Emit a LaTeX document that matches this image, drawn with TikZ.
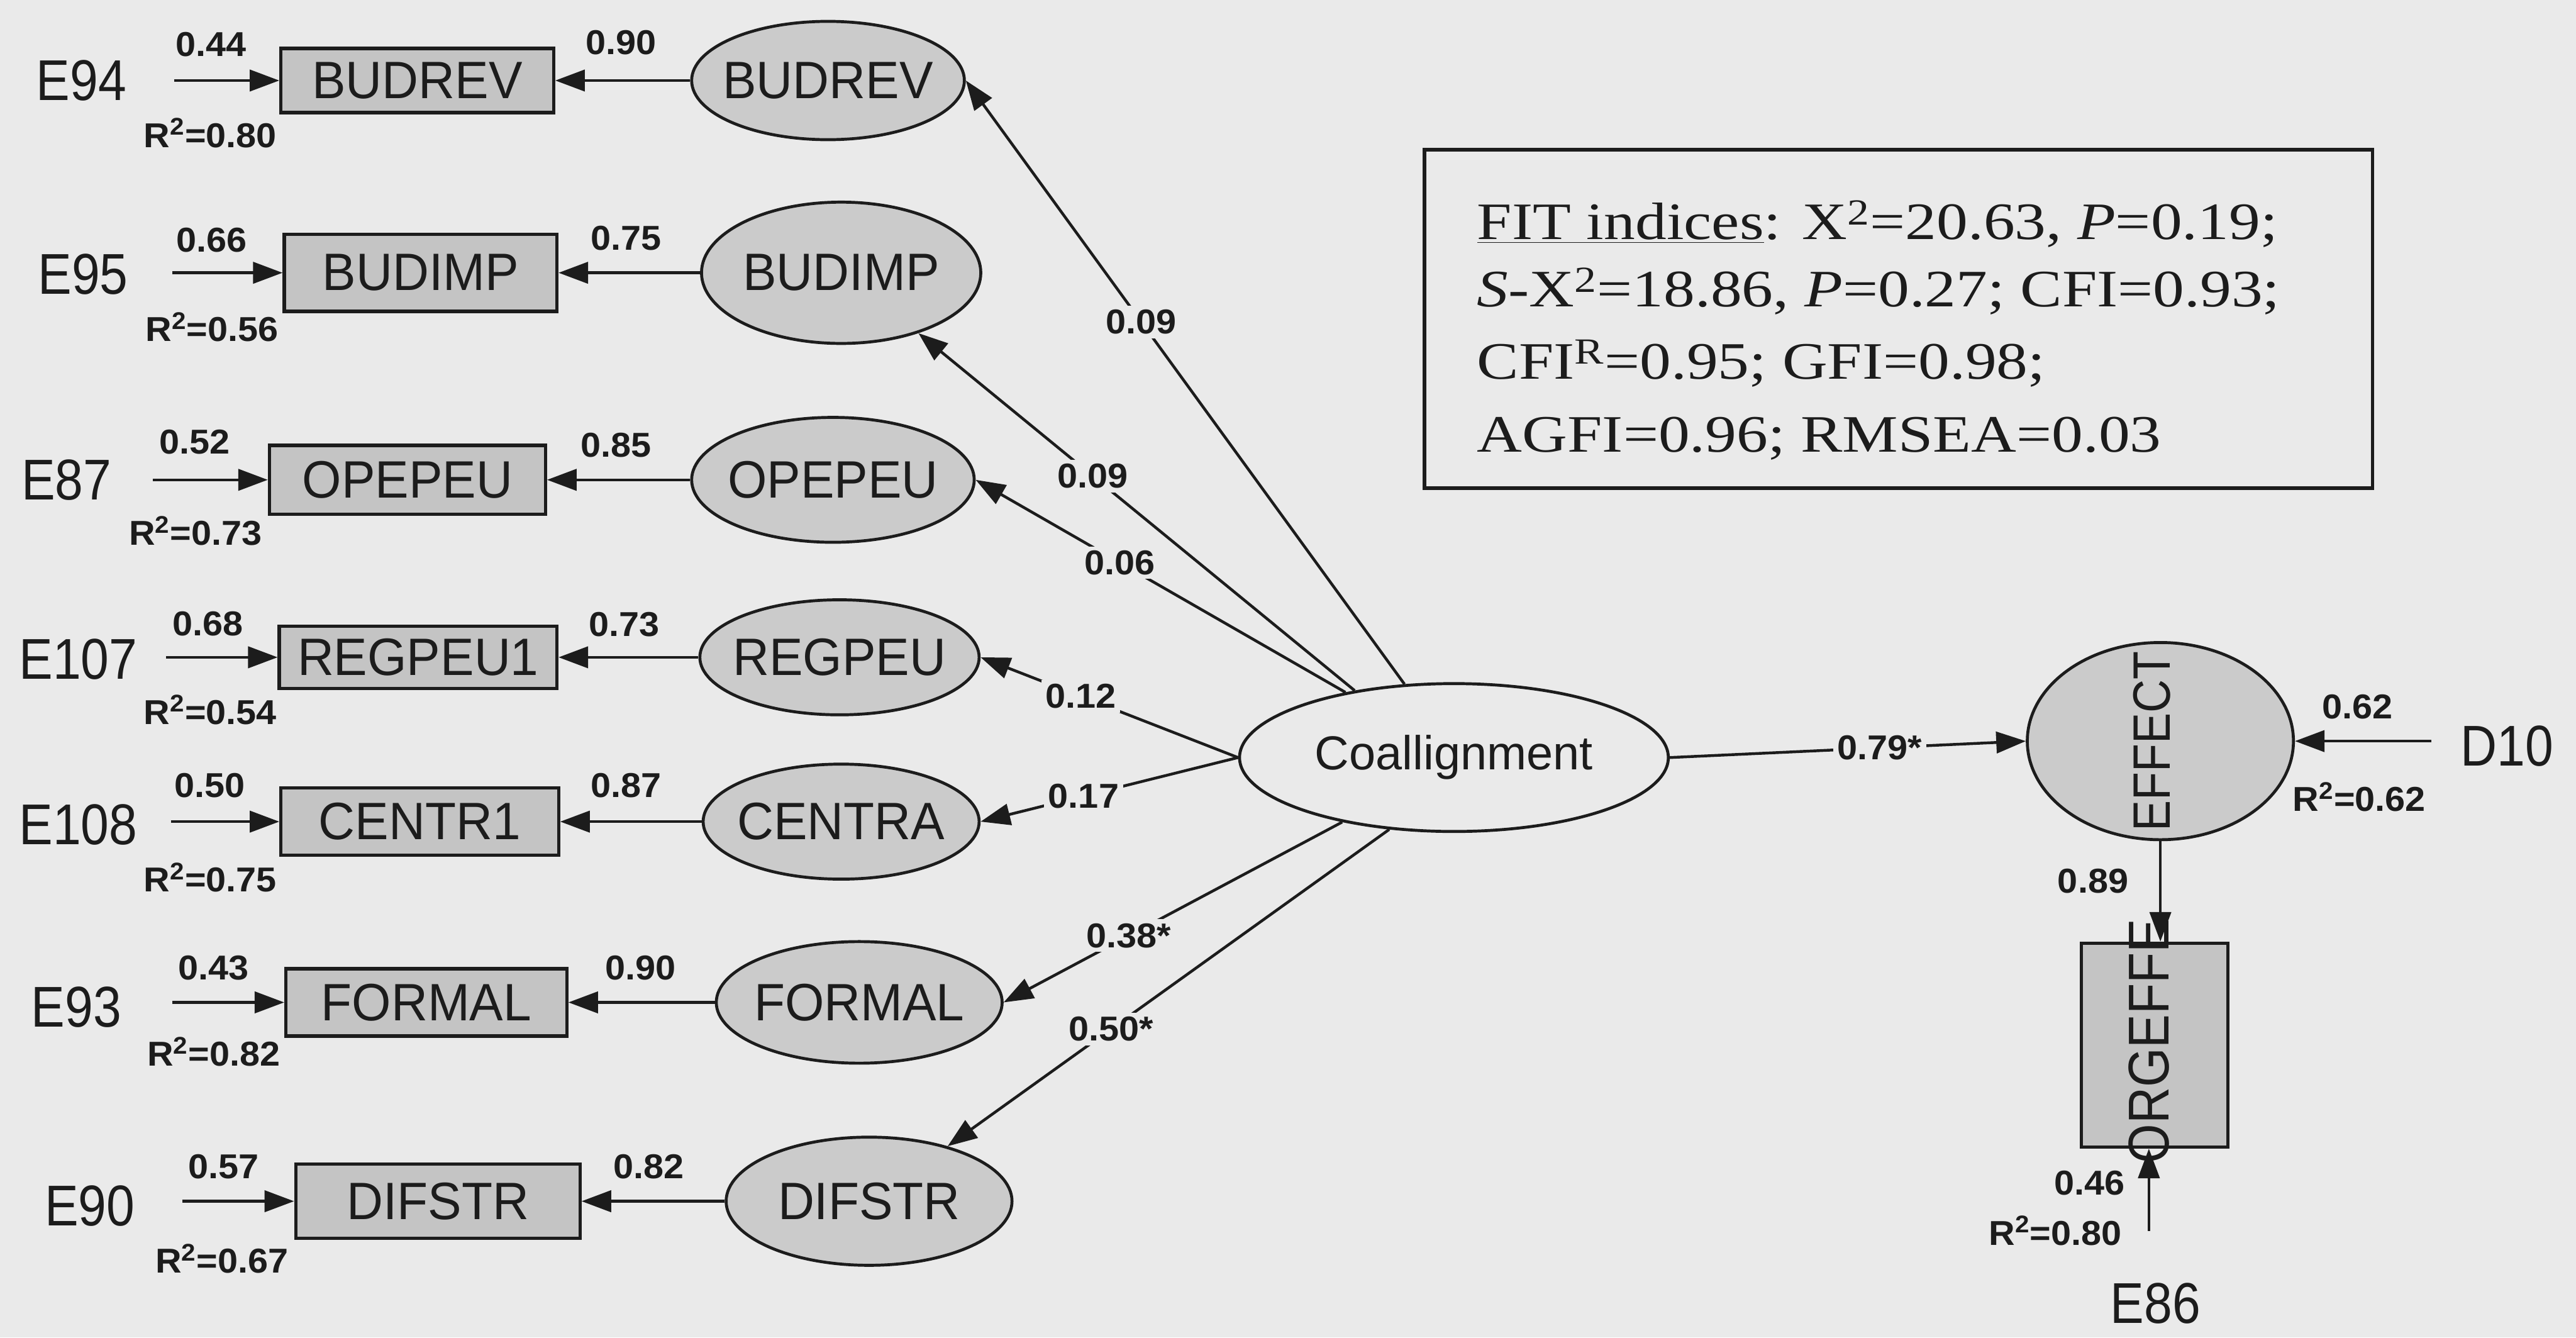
\documentclass[tikz,border=0pt]{standalone}
\usepackage{fontspec}
\setmainfont{Liberation Sans}
\newfontfamily\efamily[FakeStretch=0.88]{Liberation Sans}
\newfontfamily\vfamily[FakeStretch=0.96]{Liberation Sans}
\newfontfamily\nfamily[FakeStretch=1.05]{Liberation Sans}
\newfontfamily\fitfamily[FakeStretch=1.19]{Liberation Serif}
\usetikzlibrary{shapes.geometric,arrows.meta}
\definecolor{bg}{HTML}{EAEAEA}
\definecolor{ink}{HTML}{1C1C1C}
\definecolor{boxfill}{HTML}{C4C4C4}
\definecolor{latfill}{HTML}{CBCBCB}
\tikzset{
  elab/.style={font=\efamily\fontsize{35}{40}\selectfont, text=ink, inner sep=0pt},
  num/.style={font=\nfamily\bfseries\fontsize{21}{24}\selectfont, text=ink, inner sep=0pt},
  obs/.style={rectangle, draw=ink, line width=2pt, fill=boxfill, inner sep=0pt,
              font=\vfamily\fontsize{32}{36}\selectfont, text=ink},
  lat/.style={ellipse, draw=ink, line width=1.8pt, fill=latfill, inner xsep=-14pt, inner ysep=0pt,
              font=\vfamily\fontsize{32}{36}\selectfont, text=ink},
  arr/.style={draw=ink, line width=1.7pt, -{Triangle[length=18pt,width=13pt]}},
  onlab/.style={num, fill=bg, inner sep=2.5pt},
  fitt/.style={font=\fitfamily\fontsize{32}{36}\selectfont, text=ink, inner sep=0pt, anchor=base west},
}
\begin{document}
\begin{tikzpicture}[x=1pt,y=-1pt]
\fill[bg] (0,0) rectangle (1568,814);
\useasboundingbox (0,0) rectangle (1568,814);

% ---------- row 1 : BUDREV
\node[elab] (e1) at (49.5,49) {E94};
\node[obs, minimum width=166pt, minimum height=39pt] (m1) at (254,49) {BUDREV};
\node[lat, minimum width=166pt, minimum height=72pt] (l1) at (504,49) {BUDREV};
\coordinate (s1) at (106,49);
\draw[arr] (s1) -- (m1);
\draw[arr] (l1) -- (m1);
\node[num] (n1a) at (128.5,27) {0.44};
\node[num] (n1b) at (128,81) {R\textsuperscript{2}=0.80};
\node[num] (n1c) at (378,26) {0.90};

% ---------- row 2 : BUDIMP
\node[elab] (e2) at (50.5,167) {E95};
\node[obs, minimum width=166pt, minimum height=47pt] (m2) at (256,166) {BUDIMP};
\node[lat, minimum width=170pt, minimum height=86pt] (l2) at (512,166) {BUDIMP};
\coordinate (s2) at (105,166);
\draw[arr] (s2) -- (m2);
\draw[arr] (l2) -- (m2);
\node[num] (n2a) at (129,146) {0.66};
\node[num] (n2b) at (129,199) {R\textsuperscript{2}=0.56};
\node[num] (n2c) at (381,145) {0.75};

% ---------- row 3 : OPEPEU
\node[elab] (e3) at (40.5,292) {E87};
\node[obs, minimum width=168pt, minimum height=42pt] (m3) at (248,292) {OPEPEU};
\node[lat, minimum width=172pt, minimum height=76pt] (l3) at (507,292) {OPEPEU};
\coordinate (s3) at (93,292);
\draw[arr] (s3) -- (m3);
\draw[arr] (l3) -- (m3);
\node[num] (n3a) at (118.5,269) {0.52};
\node[num] (n3b) at (119,323) {R\textsuperscript{2}=0.73};
\node[num] (n3c) at (375,271) {0.85};

% ---------- row 4 : REGPEU
\node[elab] (e4) at (47.6,401) {E107};
\node[obs, minimum width=169pt, minimum height=38pt] (m4) at (254.5,400) {REGPEU1};
\node[lat, minimum width=170pt, minimum height=70pt] (l4) at (511,400) {REGPEU};
\coordinate (s4) at (101,400);
\draw[arr] (s4) -- (m4);
\draw[arr] (l4) -- (m4);
\node[num] (n4a) at (126.5,379.5) {0.68};
\node[num] (n4b) at (128,432) {R\textsuperscript{2}=0.54};
\node[num] (n4c) at (380,380) {0.73};

% ---------- row 5 : CENTRA
\node[elab] (e5) at (47.6,502) {E108};
\node[obs, minimum width=169pt, minimum height=41pt] (m5) at (255.5,500) {CENTR1};
\node[lat, minimum width=168pt, minimum height=70pt] (l5) at (512,500) {CENTRA};
\coordinate (s5) at (104,500);
\draw[arr] (s5) -- (m5);
\draw[arr] (l5) -- (m5);
\node[num] (n5a) at (127.5,478) {0.50};
\node[num] (n5b) at (128,534) {R\textsuperscript{2}=0.75};
\node[num] (n5c) at (381,478) {0.87};

% ---------- row 6 : FORMAL
\node[elab] (e6) at (46.5,613) {E93};
\node[obs, minimum width=171pt, minimum height=41pt] (m6) at (259.5,610) {FORMAL};
\node[lat, minimum width=174pt, minimum height=74pt] (l6) at (523,610) {FORMAL};
\coordinate (s6) at (105,610);
\draw[arr] (s6) -- (m6);
\draw[arr] (l6) -- (m6);
\node[num] (n6a) at (130,589) {0.43};
\node[num] (n6b) at (130,640) {R\textsuperscript{2}=0.82};
\node[num] (n6c) at (390,589) {0.90};

% ---------- row 7 : DIFSTR
\node[elab] (e7) at (54.6,734) {E90};
\node[obs, minimum width=173pt, minimum height=45pt] (m7) at (266.5,731) {DIFSTR};
\node[lat, minimum width=174pt, minimum height=78pt] (l7) at (529,731) {DIFSTR};
\coordinate (s7) at (111,731);
\draw[arr] (s7) -- (m7);
\draw[arr] (l7) -- (m7);
\node[num] (n7a) at (136,710) {0.57};
\node[num] (n7b) at (135,766) {R\textsuperscript{2}=0.67};
\node[num] (n7c) at (395,710) {0.82};

% ---------- second-order factor
\node[ellipse, draw=ink, line width=1.8pt, minimum width=261pt, minimum height=90pt, inner sep=0pt,
      font=\fontsize{29}{34}\selectfont, text=ink] (coal) at (885,461) {Coallignment};

\draw[arr] (coal.124) -- node[onlab, pos=0.60] {0.09} (l1.east);
\draw[arr] (coal.146) -- node[onlab, pos=0.60] {0.09} (l2.-38);
\draw[arr] (coal.149) -- node[onlab, pos=0.61] {0.06} (l3.east);
\draw[arr] (coal.180) -- node[onlab, pos=0.61] {0.12} (l4.east);
\draw[arr] (coal.180) -- node[onlab, pos=0.60] {0.17} (l5.east);
\draw[arr] (coal.210) -- node[onlab, pos=0.63] {0.38*} (l6.east);
\draw[arr] (coal.228) -- node[onlab, pos=0.63] {0.50*} (l7.35);

% ---------- outcome
\node[lat, minimum width=162pt, minimum height=120pt] (eff) at (1315,451) {};
\node[elab, font=\efamily\fontsize{32}{36}\selectfont, rotate=90] (effT) at (1310,451) {EFFECT};
\node[obs, minimum width=89pt, minimum height=124pt] (org) at (1311.5,636) {};
\node[elab, rotate=90] (orgT) at (1308,633.5) {ORGEFFE};

\draw[arr] (coal.east) -- node[onlab, pos=0.59] {0.79*} (eff.west);

\node[elab] (d10) at (1526,454) {D10};
\coordinate (d10s) at (1480,451);
\draw[arr] (d10s) -- (eff.east);
\node[num] (n8a) at (1435,430) {0.62};
\node[num] (n8b) at (1436,485) {R\textsuperscript{2}=0.62};

\draw[arr] (eff.south) -- (eff.south |- org.north);
\node[num] (n9) at (1274,536) {0.89};

\node[elab] (e86) at (1312,793) {E86};
\coordinate (e86s) at (1308,749);
\draw[arr] (e86s) -- (e86s |- org.south);
\node[num] (n10a) at (1272,720) {0.46};
\node[num] (n10b) at (1251,749) {R\textsuperscript{2}=0.80};

% ---------- fit indices
\node[draw=ink, line width=2.2pt, minimum width=577pt, minimum height=206pt, inner sep=0pt,
      anchor=north west] (fit) at (866,90) {};
\node[fitt] (f1) at (899,145.8) {\underline{FIT indices}: X\textsuperscript{2}=20.63, \textit{P}=0.19;};
\node[fitt] (f2) at (899,186.7) {\textit{S}-X\textsuperscript{2}=18.86, \textit{P}=0.27; CFI=0.93;};
\node[fitt] (f3) at (899,230.6) {CFI\textsuperscript{R}=0.95; GFI=0.98;};
\node[fitt] (f4) at (899,275) {AGFI=0.96; RMSEA=0.03};
\end{tikzpicture}
\end{document}
